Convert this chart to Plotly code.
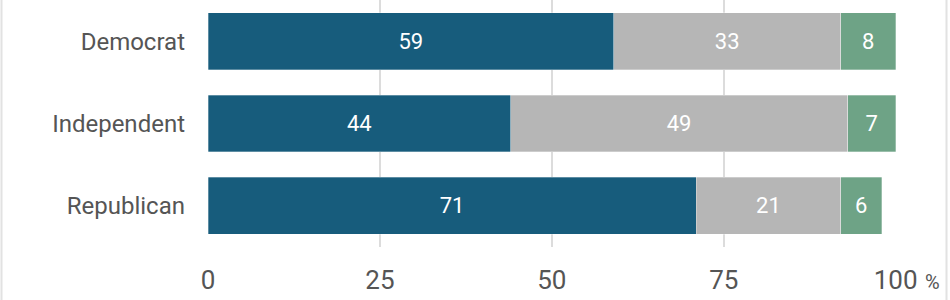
import plotly.graph_objects as go

categories = ["Democrat", "Independent", "Republican"]
series_names = ["Yes", "No", "Don't know"]
series_values = [
    [59, 44, 71],
    [33, 49, 21],
    [8, 7, 6],
]
colors = ["#175c7c", "#b6b6b6", "#6ea386"]
x_ticks = [0, 25, 50, 75, 100]

W, H = 950, 300
ML, MR, MT, MB = 208, 54, 0, 53
pw = W - ML - MR
ph = H - MT - MB

fig = go.Figure()
for name, vals, col in zip(series_names, series_values, colors):
    fig.add_trace(go.Bar(
        y=categories, x=vals, name=name, orientation="h",
        marker=dict(color=col, line=dict(color="rgba(255,255,255,0.6)", width=0.5)),
        text=[str(v) for v in vals], textposition="inside",
        insidetextanchor="middle", textangle=0, constraintext="none",
        textfont=dict(color="white", size=22, family="Roboto"),
        hoverinfo="x+y+name",
    ))

fig.update_layout(
    barmode="stack", bargap=0.31,
    width=W, height=H,
    margin=dict(l=ML, r=MR, t=MT, b=MB, pad=0),
    paper_bgcolor="white", plot_bgcolor="white",
    showlegend=False,
    font=dict(family="Roboto", color="#555555"),
    xaxis=dict(range=[0, 100.05], tickvals=x_ticks, ticktext=[str(t) for t in x_ticks],
               showgrid=True, gridcolor="#dcdcdc", gridwidth=1.5, zeroline=False,
               showline=False, tickfont=dict(size=26, color="#555555"),
               ticks="", ticklabelstandoff=15),
    yaxis=dict(categoryorder="array", categoryarray=categories, autorange="reversed",
               showgrid=False, zeroline=False, showline=False,
               tickfont=dict(size=24, color="#555555"), ticks="", ticklabelstandoff=22),
    annotations=[dict(x=100, xref="x", y=-(296 - ph) / ph, yref="paper",
                      text="%", showarrow=False, xanchor="left", yanchor="bottom",
                      xshift=27, font=dict(size=20, color="#555555"))],
    shapes=[
        dict(type="line", xref="paper", yref="paper",
             x0=(1.5 - ML) / pw, x1=(1.5 - ML) / pw, y0=1 - H / ph, y1=1,
             line=dict(color="#e2e2e2", width=2)),
        dict(type="line", xref="paper", yref="paper",
             x0=(946.5 - ML) / pw, x1=(946.5 - ML) / pw, y0=1 - H / ph, y1=1,
             line=dict(color="#e2e2e2", width=2)),
    ],
)

fig.write_html("out.html")
